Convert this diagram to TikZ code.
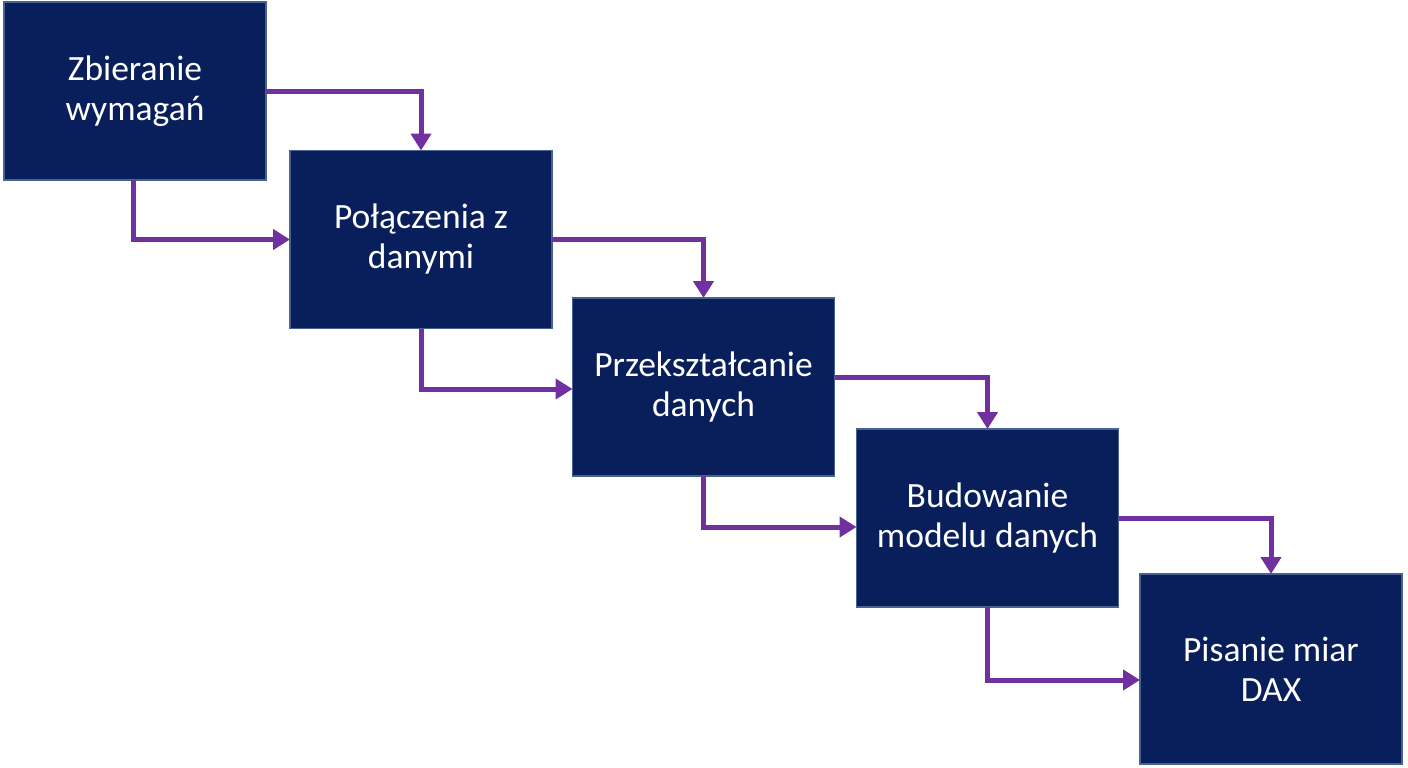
\documentclass[tikz,border=0pt]{standalone}
\usepackage{fontspec}
\setmainfont{Carlito}
\usetikzlibrary{arrows.meta}
\definecolor{boxfill}{RGB}{8,31,92}
\definecolor{boxedge}{RGB}{72,98,145}
\definecolor{arrowpurple}{RGB}{112,48,160}
\tikzset{
  stepbox/.style={draw=boxedge, line width=1.5pt, fill=boxfill, text=white,
    minimum width=262pt, minimum height=178pt, inner sep=0pt, outer sep=0pt,
    align=center, font=\fontsize{35.5}{40}\selectfont},
  flow/.style={draw=arrowpurple, line width=5pt,
    -{Triangle[width=20pt,length=17pt]}}
}
\begin{document}
\begin{tikzpicture}[x=1pt,y=-1pt]
\useasboundingbox[fill=white] (0,0) rectangle (1408,768);
\node[stepbox] (b1) at (135,91) {Zbieranie\\wymagań};
\node[stepbox] (b2) at (421,239.5) {Połączenia z\\danymi};
\node[stepbox] (b3) at (703.5,387) {Przekształcanie\\danych};
\node[stepbox] (b4) at (987.5,518) {Budowanie\\modelu danych};
\node[stepbox, minimum height=190pt] (b5) at (1271,669) {Pisanie miar\\DAX};
\draw[flow] (b1.east) -| (b2.north);
\draw[flow] ([xshift=-2pt]b1.south) |- (b2.west);
\draw[flow] (b2.east) -| (b3.north);
\draw[flow] (b2.south) |- ([yshift=-2pt]b3.west);
\draw[flow] ([yshift=10pt]b3.east) -| (b4.north);
\draw[flow] (b3.south) |- ([yshift=-9pt]b4.west);
\draw[flow] (b4.east) -| (b5.north);
\draw[flow] (b4.south) |- ([yshift=-11pt]b5.west);
\end{tikzpicture}
\end{document}
